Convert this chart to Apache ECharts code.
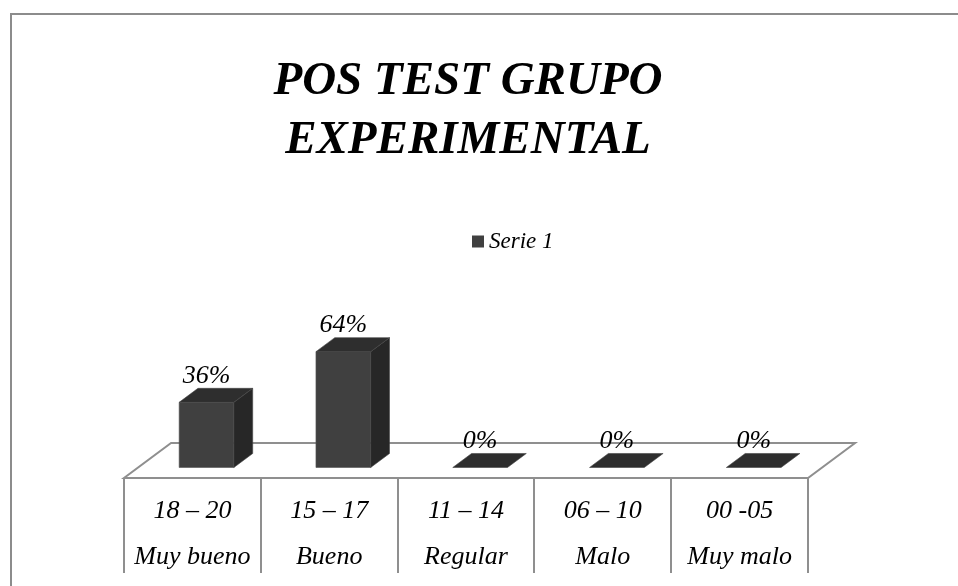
<!DOCTYPE html>
<html>
<head>
<meta charset="utf-8">
<script src="https://cdn.jsdelivr.net/npm/echarts@6/dist/echarts.min.js"></script>
<style>
html,body{margin:0;padding:0;background:#fff;}
#chart{width:958px;height:586px;}
</style>
</head>
<body>
<div id="chart"></div>
<script>
const ranges = ['18 – 20', '15 – 17', '11 – 14', '06 – 10', '00 -05'];
const levels = ['Muy bueno', 'Bueno', 'Regular', 'Malo', 'Muy malo'];
const values = [36, 64, 0, 0, 0];
const seriesName = 'Serie 1';
const titleText = 'POS TEST GRUPO\nEXPERIMENTAL';

const FONT = '"Liberation Serif", "Times New Roman", serif';
const DEPTH_X = 0.344, DEPTH_Y = 0.256;   // floor depth relative to band width
const F0 = 0.3, F1 = 0.7;                 // bar position within depth
const BAR_W = 0.40;
const GRAY = '#8f8f8f';

const chart = echarts.init(document.getElementById('chart'));

function floorItem(params, api) {
  const cs = params.coordSys;
  const band = cs.width / ranges.length;
  const dx = band * DEPTH_X, dy = band * DEPTH_Y;
  const x0 = cs.x, x1 = cs.x + cs.width, y0 = cs.y + cs.height;
  const children = [{
    type: 'polygon',
    shape: { points: [[x0, y0], [x1, y0], [x1 + dx, y0 - dy], [x0 + dx, y0 - dy]] },
    style: { fill: '#fff', stroke: GRAY, lineWidth: 2 }
  }];
  for (let i = 0; i <= ranges.length; i++) {
    const x = Math.round(x0 + band * i);
    children.push({
      type: 'line',
      shape: { x1: x, y1: y0, x2: x, y2: y0 + 95 },
      style: { stroke: GRAY, lineWidth: 2 }
    });
  }
  return { type: 'group', children: children };
}

function barItem(params, api) {
  const cat = api.value(0), v = api.value(1);
  const base = api.coord([cat, 0]);
  const top = api.coord([cat, v]);
  const band = api.size([1, 0])[0];
  const dX = band * DEPTH_X, dY = band * DEPTH_Y;
  const w = band * BAR_W;
  const cx = base[0] + F0 * dX;
  const xa = cx - w / 2, xb = cx + w / 2;
  const yb = base[1] - F0 * dY;
  const yt = yb - (base[1] - top[1]);
  const bx = (F1 - F0) * dX, by = (F1 - F0) * dY;
  const children = [];
  if (v > 0) {
    children.push({
      type: 'polygon',
      shape: { points: [[xa, yb], [xb, yb], [xb, yt], [xa, yt]] },
      style: { fill: '#404040', stroke: '#555', lineWidth: 0.6 }
    });
    children.push({
      type: 'polygon',
      shape: { points: [[xb, yb], [xb + bx, yb - by], [xb + bx, yt - by], [xb, yt]] },
      style: { fill: '#272727', stroke: '#444', lineWidth: 0.6 }
    });
  }
  children.push({
    type: 'polygon',
    shape: { points: [[xa, yt], [xb, yt], [xb + bx, yt - by], [xa + bx, yt - by]] },
    style: { fill: '#2e2e2e', stroke: '#444', lineWidth: 0.6 }
  });
  children.push({
    type: 'text',
    x: cx, y: yt - by + 1,
    style: {
      text: v + '%', align: 'center', verticalAlign: 'bottom',
      font: 'italic 26px ' + FONT, fill: '#000'
    },
    z2: 10
  });
  return { type: 'group', children: children };
}

chart.setOption({
  animation: false,
  backgroundColor: '#fff',
  title: {
    text: titleText,
    left: 463, top: 47, textAlign: 'center',
    textStyle: {
      fontFamily: FONT, fontStyle: 'italic', fontWeight: 'bold',
      fontSize: 47, lineHeight: 59, color: '#000'
    }
  },
  legend: {
    data: [seriesName], left: 467, top: 225,
    icon: 'rect', itemWidth: 12, itemHeight: 12, itemGap: 6,
    textStyle: { fontFamily: FONT, fontStyle: 'italic', fontSize: 23, color: '#000' }
  },
  graphic: [{
    type: 'rect', silent: true, z: -10,
    shape: { x: 11, y: 14, width: 1200, height: 1200 },
    style: { fill: 'none', stroke: '#8c8c8c', lineWidth: 2 }
  }],
  grid: { left: 124, right: 150, top: 297, bottom: 108 },
  xAxis: {
    type: 'category', data: ranges,
    axisLine: { show: false }, axisTick: { show: false }, splitLine: { show: false },
    axisLabel: {
      margin: 10, interval: 0,
      formatter: function (val, idx) { return '{a|' + val + '}\n{b|' + levels[idx] + '}'; },
      rich: {
        a: { fontFamily: FONT, fontStyle: 'italic', fontSize: 26, lineHeight: 46, color: '#000' },
        b: { fontFamily: FONT, fontStyle: 'italic', fontSize: 26, lineHeight: 46, color: '#000' }
      }
    }
  },
  yAxis: { type: 'value', min: 0, max: 100, show: false },
  series: [{
    type: 'custom', name: 'floor', renderItem: floorItem, data: [[0, 0]], z: 1, silent: true,
    legendHoverLink: false
  }, {
    type: 'custom', name: seriesName, renderItem: barItem, z: 5,
    itemStyle: { color: '#404040' },
    data: values.map(function (v, i) { return [i, v]; })
  }]
});
</script>
</body>
</html>
